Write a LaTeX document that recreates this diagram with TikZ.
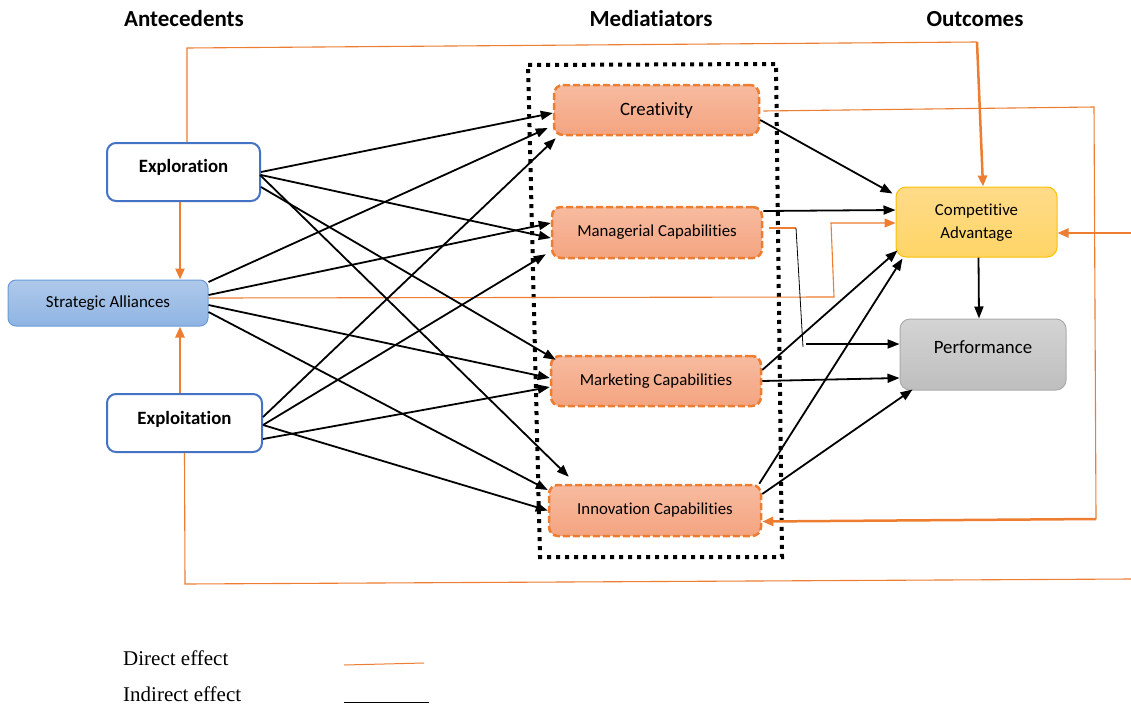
\documentclass[tikz,border=0pt]{standalone}
\usepackage{fontspec}
\setmainfont{Carlito}[Ligatures={NoCommon,NoContextual}]
\newfontfamily\legendfont{Liberation Serif}
\usetikzlibrary{arrows.meta}

\definecolor{accent}{HTML}{ED7D31}
\definecolor{bluedge}{HTML}{4472C4}
\definecolor{medtop}{HTML}{F7BBA0}
\definecolor{medbot}{HTML}{F4A480}
\definecolor{allytop}{HTML}{AFC9EA}
\definecolor{allybot}{HTML}{8FB4E3}
\definecolor{allyedge}{HTML}{6A9BD8}
\definecolor{catop}{HTML}{FFDB8A}
\definecolor{cabot}{HTML}{FFD566}
\definecolor{caedge}{HTML}{FFC000}
\definecolor{perftop}{HTML}{D4D4D4}
\definecolor{perfbot}{HTML}{BEBEBE}
\definecolor{perfedge}{HTML}{ABABAB}

\tikzset{
  head/.style={font=\bfseries\fontsize{23}{26}\selectfont, anchor=base},
  antebox/.style={draw=bluedge, line width=2pt, rounded corners=9pt, fill=white,
    minimum width=153pt, minimum height=58pt, inner sep=0pt,
    font=\bfseries\fontsize{18.8}{22}\selectfont},
  allybox/.style={draw=allyedge, line width=1pt, rounded corners=8pt,
    top color=allytop, bottom color=allybot,
    minimum width=200pt, minimum height=46pt, inner sep=0pt,
    font=\fontsize{16.9}{20}\selectfont},
  mediabox/.style={draw=accent, line width=2.5pt, dash pattern=on 7pt off 3pt,
    rounded corners=9pt, top color=medtop, bottom color=medbot,
    minimum width=205pt, minimum height=50pt, inner sep=0pt,
    font=\fontsize{16.8}{20}\selectfont},
  cabox/.style={draw=caedge, line width=1pt, rounded corners=10pt,
    top color=catop, bottom color=cabot, align=center,
    minimum width=161pt, minimum height=70pt, inner sep=0pt,
    font=\fontsize{16.8}{23}\selectfont},
  perfbox/.style={draw=perfedge, line width=1pt, rounded corners=10pt,
    top color=perftop, bottom color=perfbot,
    minimum width=166pt, minimum height=71pt, inner sep=0pt,
    font=\fontsize{18.8}{22}\selectfont},
  legend/.style={font=\legendfont\fontsize{21}{24}\selectfont, anchor=base west, inner sep=0pt},
  ind/.style={line width=1.8pt, -{Triangle[length=12pt,width=9pt]}},
  dir/.style={draw=accent, line width=2.5pt, -{Triangle[length=11pt,width=9pt]}},
  dirthin/.style={draw=accent, line width=1.1pt},
  groupframe/.style={line width=4pt, dash pattern=on 4pt off 5pt},
}

\begin{document}
\begin{tikzpicture}[x=1pt, y=-1pt]
\useasboundingbox (0,0) rectangle (1131,704);

% column headings
\node[head] (hant) at (184,27) {Antecedents};
\node[head] (hmed) at (651,26) {Mediatiators};
\node[head] (hout) at (975,27) {Outcomes};

% antecedents
\node[antebox] (expl) at (183.5,172) {\raisebox{13pt}{Exploration}};
\node[allybox] (sa) at (108,303) {Strategic Alliances};
\node[antebox, minimum width=155pt] (expt) at (184.5,423) {\raisebox{11pt}{Exploitation}};

% mediators
\node[mediabox, font=\fontsize{18.8}{22}\selectfont] (crea) at (656.5,110) {\raisebox{-5pt}[0pt][0pt]{Creativity}};
\node[mediabox, minimum width=210pt, minimum height=51pt] (mana) at (657,232.5) {Managerial Capabilities};
\node[mediabox, minimum width=210pt] (mark) at (656,381) {Marketing Capabilities};
\node[mediabox, minimum width=212pt, minimum height=51pt] (inno) at (655,510.5) {Innovation Capabilities};

% outcomes
\node[cabox] (ca) at (976.5,222) {\raisebox{-3pt}{\begin{tabular}{@{}c@{}}Competitive\\Advantage\end{tabular}}};
\node[perfbox] (perf) at (983,354.5) {\raisebox{14.5pt}{Performance}};

% frame around the mediators
\draw[groupframe] (528,65) -- (776,64) -- (782,557) -- (540,557) -- cycle;

% bend points of the direct-effect paths
\coordinate (tl) at (187,48);
\coordinate (tr) at (977,42);
\coordinate (rt) at (1094,107);
\coordinate (rb) at (1096,519);
\coordinate (sb1) at (834,297);
\coordinate (sb2) at (831,223);
\coordinate (m1) at (796,228);
\coordinate (m2) at (803,347);
\coordinate (rin) at (1131,233);
\coordinate (bl) at (185,584);
\coordinate (br) at (1131,579);
\coordinate (ea) at ([xshift=-3.5pt]expl.south);
\coordinate (eb) at ([xshift=-4.5pt]expt.north);

% direct effects
\draw[dir] (ea) -- (ea |- sa.north);
\draw[dir] (eb) -- (eb |- sa.south);
\draw[dirthin] ([xshift=3.5pt]expl.north) -- (tl) -- (tr);
\draw[dir] (tr) -- ([xshift=6.5pt]ca.north);
\draw[dirthin] ([xshift=3pt,yshift=-1pt]crea.east) -- (rt) -- (rb);
\draw[dir] (rb) -- ([yshift=-11pt]inno.east);
\draw[dirthin, -{Triangle[length=11pt,width=9pt]}] ([yshift=5pt]sa.east) -- (sb1) -- (sb2) -- ([yshift=-1pt]ca.west);
\draw[dir] (rin) -- ([yshift=-11pt]ca.east);
\draw[dirthin] (expt.south) -- (bl) -- (br);
\draw[dirthin] ([xshift=6pt,yshift=4.5pt]mana.east) -- (m1);
\draw[line width=0.8pt] (m1) -- (m2);
\draw[ind] ([xshift=3pt,yshift=3pt]m2) -- ([yshift=10.5pt]perf.west);

% exploration to mediators
\draw[ind] (expl.east) -- ([yshift=-3pt]crea.west);
\draw[ind] ([yshift=-3pt]expl.east) -- ([yshift=-5.5pt]mana.west);
\draw[ind] ([yshift=-15pt]expl.east) -- ([xshift=6pt,yshift=-5pt]mark.north west);
\draw[ind] ([xshift=-1pt,yshift=-3pt]expl.east) -- ([xshift=21pt,yshift=7pt]inno.north west);

% strategic alliances to mediators
\draw[ind] ([yshift=21pt]sa.east) -- ([xshift=-5pt,yshift=-18pt]crea.west);
\draw[ind] ([yshift=8pt]sa.east) -- ([yshift=9.5pt]mana.west);
\draw[ind] ([yshift=-2pt]sa.east) -- ([yshift=3pt]mark.west);
\draw[ind] ([yshift=-9pt]sa.east) -- ([yshift=20.5pt]inno.west);

% exploitation to mediators
\draw[ind] ([yshift=6pt]expt.east) -- ([xshift=3pt,yshift=-2pt]crea.south west);
\draw[ind] ([yshift=-2pt]expt.east) -- ([xshift=-5pt,yshift=5pt]mana.south west);
\draw[ind] ([yshift=-16pt]expt.east) -- ([yshift=-6pt]mark.west);
\draw[ind] ([yshift=-2pt]expt.east) -- (inno.west);

% mediators to outcomes
\draw[ind] ([yshift=-10pt]crea.east) -- ([xshift=-3pt,yshift=-7pt]ca.north west);
\draw[ind] ([yshift=21.5pt]mana.east) -- ([yshift=12pt]ca.west);
\draw[ind] (mark.east) -- ([yshift=-23.5pt]perf.west);
\draw[ind] ([yshift=11pt]mark.east) -- ([xshift=2pt,yshift=7pt]ca.south west);
\draw[ind] ([xshift=-3pt]inno.north east) -- ([xshift=7pt,yshift=-1pt]ca.south west);
\draw[ind] ([yshift=16.5pt]inno.east) -- ([xshift=13pt,yshift=1pt]perf.south west);
\draw[ind] ([xshift=2pt]ca.south) -- ([xshift=-4pt]perf.north);

% legend
\node[legend] (ld) at (123,665) {Direct effect};
\node[legend] (li) at (123,701) {Indirect effect};
\coordinate (lda) at (344,665);
\coordinate (ldb) at (424,663);
\coordinate (lia) at (344,702.5);
\coordinate (lib) at (429,702.5);
\draw[accent, line width=1pt] (lda) -- (ldb);
\draw[line width=1pt] (lia) -- (lib);
\end{tikzpicture}
\end{document}
